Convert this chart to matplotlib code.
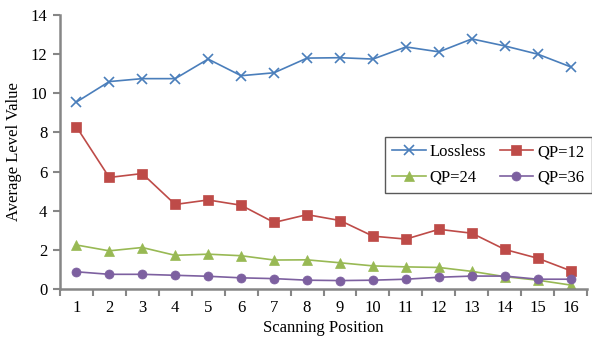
import numpy as np
import matplotlib.pyplot as plt

plt.rcParams["font.family"] = ["Liberation Serif", "DejaVu Serif"]

positions = list(range(1, 17))
lossless = [9.55, 10.6, 10.75, 10.75, 11.75, 10.9, 11.05, 11.8, 11.82, 11.75,
            12.37, 12.12, 12.78, 12.42, 12.0, 11.35]
qp12 = [8.3, 5.7, 5.9, 4.32, 4.55, 4.28, 3.4, 3.8, 3.5, 2.7,
        2.55, 3.05, 2.85, 2.02, 1.57, 0.93]
qp24 = [2.25, 1.95, 2.12, 1.72, 1.78, 1.7, 1.48, 1.49, 1.34, 1.18,
        1.13, 1.1, 0.9, 0.63, 0.45, 0.2]
qp36 = [0.88, 0.75, 0.75, 0.7, 0.65, 0.57, 0.53, 0.45, 0.43, 0.45,
        0.5, 0.6, 0.66, 0.66, 0.5, 0.5]

series = [
    ("Lossless", lossless, "#4a7ebb", "x"),
    ("QP=12", qp12, "#be4b48", "s"),
    ("QP=24", qp24, "#98b954", "^"),
    ("QP=36", qp36, "#7d60a0", "o"),
]

fig = plt.figure(figsize=(5.92, 3.42), dpi=100)
ax = fig.add_axes([0.101, 0.155, 0.891, 0.801])

lines = {}
for name, vals, color, marker in series:
    ln, = ax.plot(positions, vals, color=color, marker=marker, markersize=6.5,
                  linewidth=1.2, markeredgewidth=1.2 if marker == "x" else 0.5,
                  markeredgecolor=color, label=name)
    lines[name] = ln

ax.set_xlim(0.5, 16.5)
ax.set_ylim(0, 14)
ax.set_yticks(np.arange(0, 15, 2))
ax.set_xticks(positions)
ax.set_xticks(np.arange(0.5, 17, 1), minor=True)
ax.tick_params(axis="x", which="major", length=0, pad=8, labelsize=12)
ax.tick_params(axis="x", which="minor", length=5, width=1.5, color="#868686",
               direction="out")
ax.tick_params(axis="y", length=5, width=1.5, color="#868686", labelsize=12,
               pad=4)

for side in ["top", "right"]:
    ax.spines[side].set_visible(False)
for side in ["left", "bottom"]:
    ax.spines[side].set_color("#868686")
    ax.spines[side].set_linewidth(1.8)

ax.set_xlabel("Scanning Position", fontsize=12, labelpad=3)
ax.set_ylabel("Average Level Value", fontsize=12, labelpad=6)

# row-wise order: Lossless, QP=12 / QP=24, QP=36
order = ["Lossless", "QP=24", "QP=12", "QP=36"]
leg = ax.legend([lines[n] for n in order], order, ncol=2, loc="upper left",
                bbox_to_anchor=(0.650, 0.600), bbox_transform=fig.transFigure,
                fontsize=12, frameon=True, fancybox=False, handlelength=2.0,
                handletextpad=0.25, columnspacing=0.8, borderpad=0.45,
                labelspacing=0.55, borderaxespad=0)
leg.get_frame().set_edgecolor("#303030")
leg.get_frame().set_linewidth(1.0)

fig.savefig("out.png", dpi=100)
